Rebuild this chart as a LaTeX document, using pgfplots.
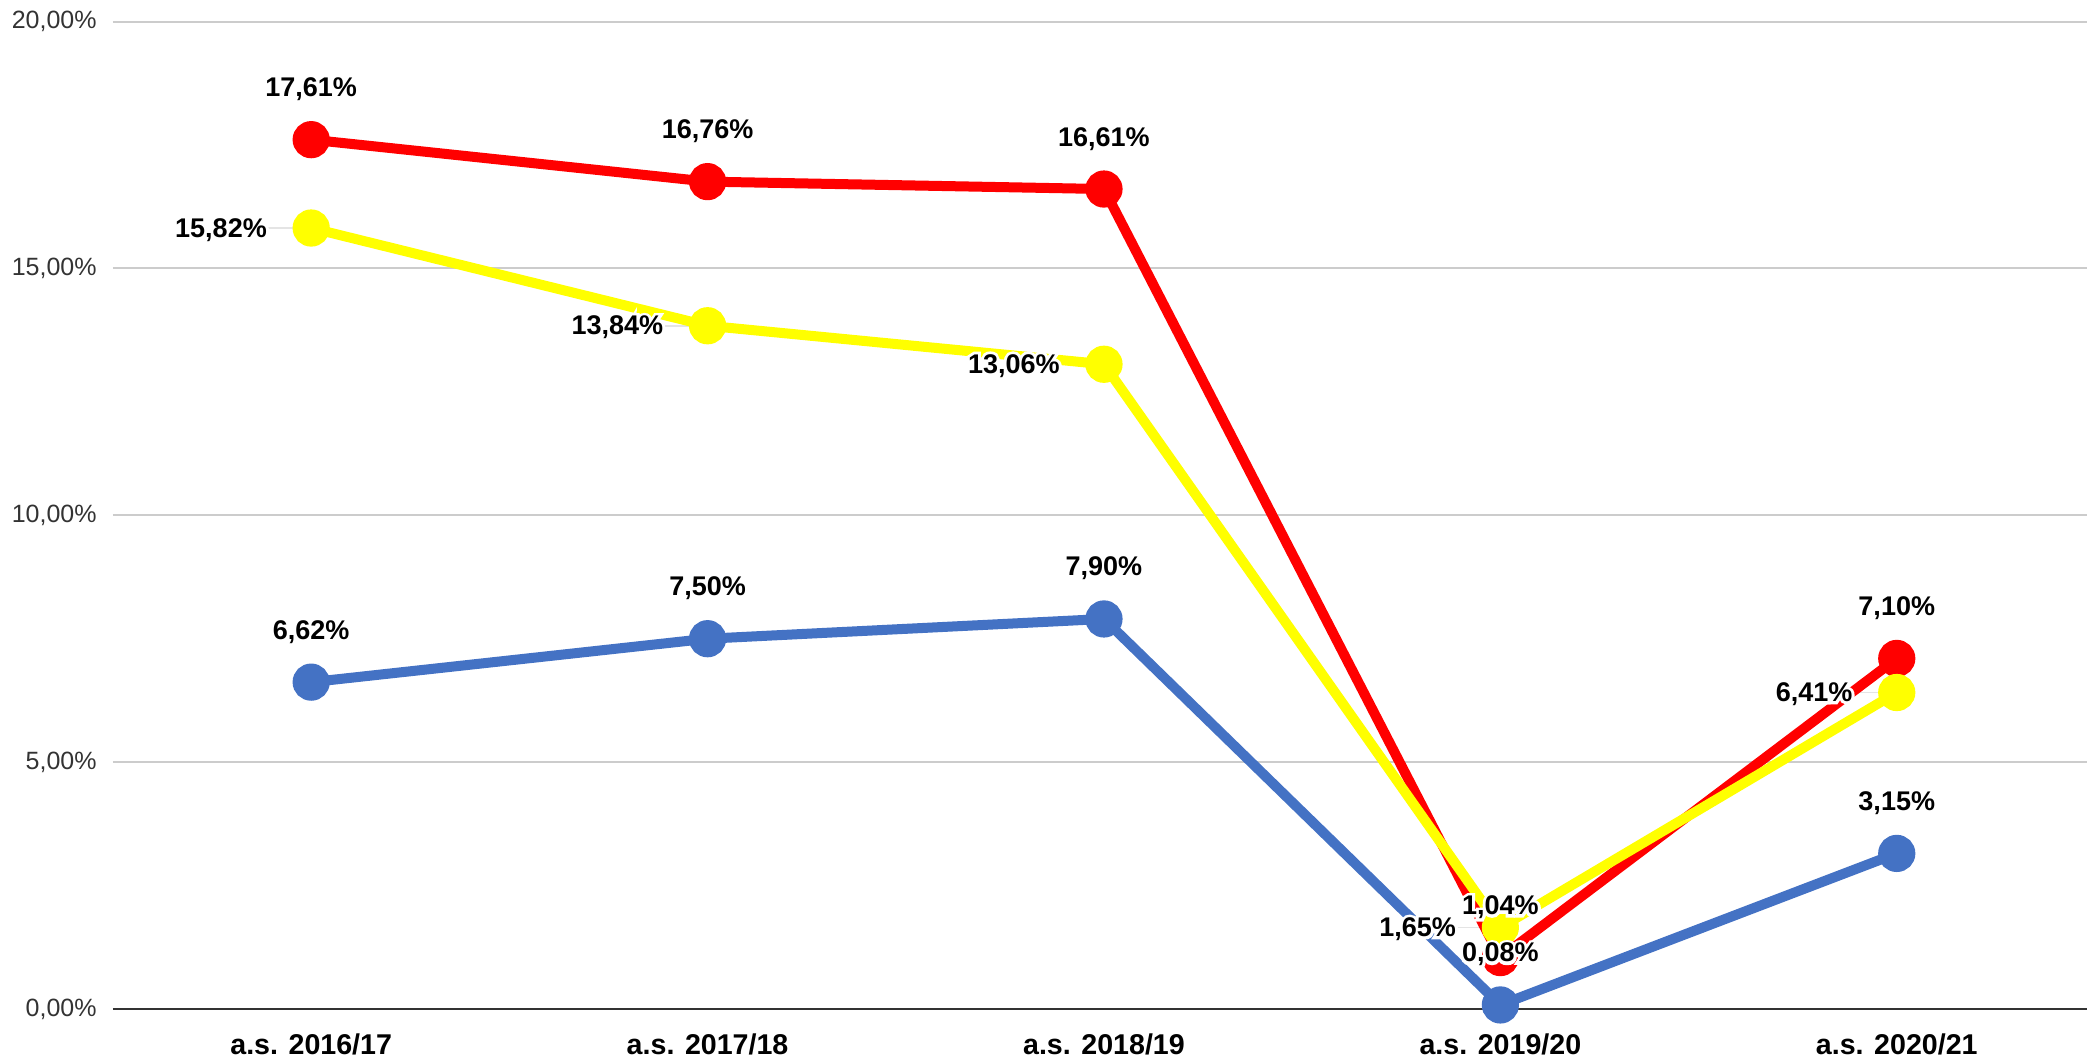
\documentclass[border=0pt]{standalone}
\usepackage{fontspec}
\setmainfont{Liberation Sans}
% heavily emboldened face, set in white under each value label as a halo
\newfontface\halofont{Liberation Sans Bold}[FakeBold=22]
\usepackage{pgfplots}
\pgfplotsset{compat=1.18}
\usepackage{pgfplotstable}

\definecolor{serred}{HTML}{FF0000}
\definecolor{seryel}{HTML}{FFFF00}
\definecolor{serblue}{HTML}{4472C4}
\definecolor{gridgray}{HTML}{CCCCCC}
\definecolor{leadergray}{HTML}{E4E4E4}

% one table per series: category index, percentage
\pgfplotstableread{
x y
0 17.61
1 16.76
2 16.61
3 1.04
4 7.10
}\redtab
\pgfplotstableread{
x y
0 15.82
1 13.84
2 13.06
3 1.65
4 6.41
}\yeltab
\pgfplotstableread{
x y
0 6.62
1 7.50
2 7.90
3 0.08
4 3.15
}\bluetab

\newcommand{\pctnum}{\pgfmathprintnumber[fixed,fixed zerofill,precision=2,use comma,assume math mode=true]{\pgfplotspointmeta}\%}
\newcommand{\pctlabel}{\rlap{\halofont\color{white}\pctnum}\pctnum}

\begin{document}
\begin{tikzpicture}
\begin{axis}[
  name=ax,
  scale only axis,
  width=987pt, height=493.6pt,
  xmin=-0.5, xmax=4.48, ymin=0, ymax=20,
  axis line style={draw=none},
  major tick length=0pt,
  xtick={0,1,2,3,4},
  xticklabels={a.s. 2016/17, a.s. 2017/18, a.s. 2018/19, a.s. 2019/20, a.s. 2020/21},
  x tick label style={font=\bfseries\fontsize{14.3}{16}\selectfont, anchor=north, inner sep=0pt, yshift=-12pt},
  ytick={0,5,10,15,20},
  yticklabel={\pgfmathprintnumber[fixed,fixed zerofill,precision=2,use comma,assume math mode=true]{\tick}\%},
  y tick label style={font=\fontsize{12.5}{14}\selectfont, text=black!80, anchor=east, inner sep=0pt, xshift=-8pt},
  ymajorgrids,
  grid style={draw=gridgray, line width=1pt},
  extra y ticks={0},
  extra y tick labels={},
  extra y tick style={ymajorgrids=true, grid style={draw=black!80, line width=1.3pt}},
  clip=false,
]
% leader lines from markers to their labels
\addplot[forget plot, draw=none, mark=none,
  error bars/.cd, y dir=plus, y fixed=0.17, error mark=none,
  error bar style={draw=leadergray, line width=0.8pt}] table {\redtab};
\addplot[forget plot, draw=none, mark=none,
  error bars/.cd, y dir=plus, y fixed=0.17, error mark=none,
  error bar style={draw=leadergray, line width=0.8pt}] table {\bluetab};
\addplot[forget plot, draw=none, mark=none,
  error bars/.cd, x dir=minus, x fixed=0.11, error mark=none,
  error bar style={draw=leadergray, line width=0.8pt}] table {\yeltab};

% series
\addplot[serblue, line width=5pt, mark=*, mark size=6.8pt, mark options={solid, fill=serblue, draw=none}] table {\bluetab};
\addplot[serred, line width=5pt, mark=*, mark size=6.8pt, mark options={solid, fill=serred, draw=none}] table {\redtab};
\addplot[seryel, line width=5pt, mark=*, mark size=6.8pt, mark options={solid, fill=seryel, draw=none}] table {\yeltab};

% value labels on top
\addplot[forget plot, draw=none, mark=none, nodes near coords={\pctlabel},
  every node near coord/.append style={text=black, font=\bfseries\fontsize{13.5}{15}\selectfont, anchor=base, inner sep=0pt, yshift=21.5pt}] table {\bluetab};
\addplot[forget plot, draw=none, mark=none, nodes near coords={\pctlabel},
  every node near coord/.append style={text=black, font=\bfseries\fontsize{13.5}{15}\selectfont, anchor=base, inner sep=0pt, yshift=21.5pt}] table {\redtab};
\addplot[forget plot, draw=none, mark=none, nodes near coords={\pctlabel},
  every node near coord/.append style={text=black, font=\bfseries\fontsize{13.5}{15}\selectfont, anchor=base east, inner sep=0pt, xshift=-22pt, yshift=-4.5pt}] table {\yeltab};
\end{axis}
\pgfresetboundingbox
\path[use as bounding box] ([xshift=-56.5pt,yshift=-26pt]ax.south west) rectangle ([yshift=10.85pt]ax.north east);
\end{tikzpicture}
\end{document}
